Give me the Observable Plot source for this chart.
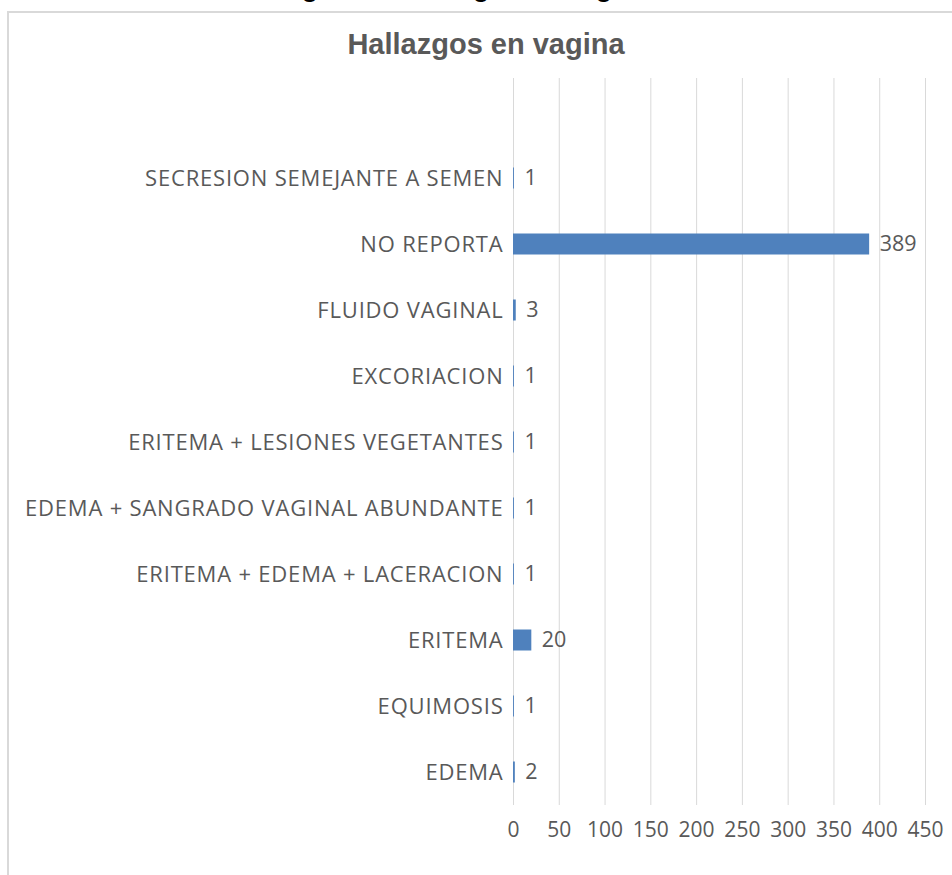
<!DOCTYPE html>
<html><head><meta charset="utf-8">
<script src="https://cdn.jsdelivr.net/npm/d3@7"></script>
<script src="https://cdn.jsdelivr.net/npm/@observablehq/plot@0.6"></script>
<style>
body{margin:0;background:#fff;}
#wrap{position:relative;width:952px;height:875px;overflow:hidden;background:#fff;}
#chart{position:absolute;left:0;top:0;}
#chart [aria-label^="y-axis"] text{font-size:22px;letter-spacing:0.8px;}
.frame{position:absolute;left:7px;top:11px;width:1000px;height:1000px;border-left:2px solid #d9d9d9;border-top:2px solid #d9d9d9;pointer-events:none;}
.caption{position:absolute;left:278px;top:-25px;font:bold 26.6px/26.6px "Liberation Sans",Arial,sans-serif;color:#000;white-space:nowrap;}
.title{position:absolute;left:0;width:972px;top:29.5px;text-align:center;font:bold 29px/29px "Liberation Sans",Arial,sans-serif;color:#595959;white-space:nowrap;}
</style></head><body>
<div id="wrap">
  <div id="chart"></div>
  <div class="frame"></div>
  <div class="caption">Figura 5. Hallazgos en vagina</div>
  <div class="title">Hallazgos en vagina</div>
</div>
<script>
const categories = [
  "SECRESION SEMEJANTE A SEMEN",
  "NO REPORTA",
  "FLUIDO VAGINAL",
  "EXCORIACION",
  "ERITEMA + LESIONES VEGETANTES",
  "EDEMA + SANGRADO VAGINAL ABUNDANTE",
  "ERITEMA + EDEMA + LACERACION",
  "ERITEMA",
  "EQUIMOSIS",
  "EDEMA"
];
const values = [1, 389, 3, 1, 1, 1, 1, 20, 1, 2];
const xTicks = [0, 50, 100, 150, 200, 250, 300, 350, 400, 450];

const data = categories.map((c, i) => ({category: c, value: values[i]}));

const chart = Plot.plot({
  width: 952,
  height: 875,
  marginLeft: 513,
  marginRight: 27,
  marginTop: 78,
  marginBottom: 70,
  style: {fontFamily: "'Open Sans', sans-serif", fontSize: "21px", color: "#595959", background: "transparent", overflow: "visible"},
  x: {domain: [0, 450], ticks: xTicks, tickSize: 0, tickPadding: 17, label: null, tickFormat: d => String(d)},
  y: {domain: categories, range: [144, 805], padding: 0, tickSize: 0, tickPadding: 10, label: null},
  marks: [
    Plot.ruleX(xTicks, {stroke: "#d9d9d9", strokeWidth: 1}),
    Plot.barX(data, {x: "value", y: "category", fill: "#4f81bd", insetTop: 22.5, insetBottom: 22.5}),
    Plot.text(data, {x: "value", y: "category", text: d => String(d.value), dx: 10, textAnchor: "start", fill: "#595959", fontSize: 21.5})
  ]
});
document.getElementById("chart").appendChild(chart);
</script>
</body></html>
